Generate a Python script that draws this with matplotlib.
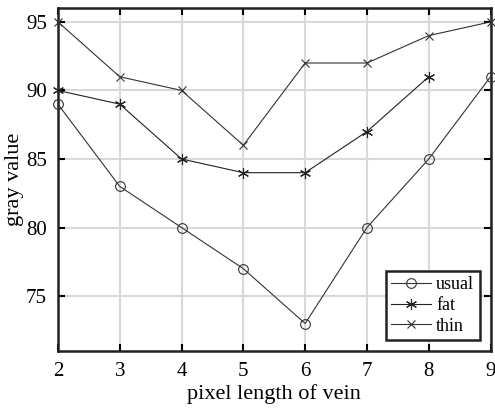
import matplotlib
matplotlib.use('Agg')
import matplotlib.pyplot as plt

plt.rcParams['font.family'] = ['Liberation Serif', 'DejaVu Serif']

# pixel length of vein
x_all = [2, 3, 4, 5, 6, 7, 8, 9]
x_fat = [2, 3, 4, 5, 6, 7, 8]

# gray values
usual = [89, 83, 80, 77, 73, 80, 85, 91]
fat = [90, 89, 85, 84, 84, 87, 91]
thin = [95, 91, 90, 86, 92, 92, 94, 95]

fig = plt.figure(figsize=(4.95, 4.09), dpi=100)
ax = fig.add_axes([0.117, 0.142, 0.874, 0.838])

ax.plot(x_all, usual, '-o', color='#333333', lw=0.8, ms=7, mfc='none', mew=0.8, label='usual', clip_on=False, zorder=3)
ax.plot(x_fat, fat, '-', marker=(6, 2, 0), color='#222222', lw=0.8, ms=8, mew=0.8, label='fat', clip_on=False, zorder=3)
ax.plot(x_all, thin, '-x', color='#333333', lw=0.8, ms=6, mew=0.8, label='thin', clip_on=False, zorder=3)

ax.set_xlim(2, 9)
ax.set_ylim(71, 96)
ax.set_xticks(x_all)
ax.set_yticks([75, 80, 85, 90, 95])
ax.grid(True, color='#d9d9d9', lw=1.5)
ax.set_axisbelow(True)

ax.tick_params(direction='in', top=True, right=True, labelsize=15, length=5, width=1.5, pad=8)
for s in ax.spines.values():
    s.set_linewidth(1.8)
    s.set_color('#222222')

ax.set_xlabel('pixel length of vein', fontsize=16, labelpad=2)
ax.set_ylabel('gray value', fontsize=16, labelpad=1)

leg = ax.legend(loc='lower right', fontsize=13, fancybox=False, framealpha=1,
                edgecolor='#222222', handlelength=2.2, handletextpad=0.3,
                borderpad=0.3, labelspacing=0.2, borderaxespad=0.6)
leg.get_frame().set_linewidth(1.8)

fig.savefig('out.png', dpi=100)
